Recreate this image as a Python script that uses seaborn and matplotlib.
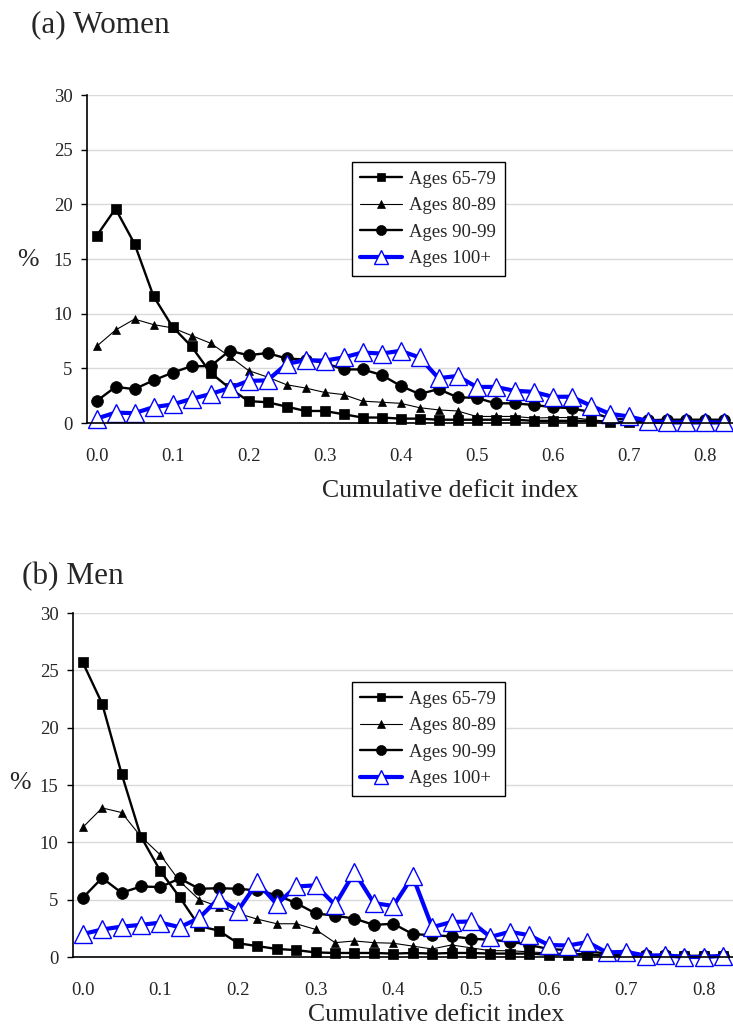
import numpy as np
import pandas as pd
import matplotlib
matplotlib.use("Agg")
import matplotlib.pyplot as plt
import seaborn as sns

# ---------------- data ----------------
category_pos = list(range(34))              # category slots along the deficit index axis
x_tick_pos = [0, 4, 8, 12, 16, 20, 24, 28, 32]
x_tick_labels = ["0.0", "0.1", "0.2", "0.3", "0.4", "0.5", "0.6", "0.7", "0.8"]
y_ticks = [0, 5, 10, 15, 20, 25, 30]
series_names = ["Ages 65-79", "Ages 80-89", "Ages 90-99", "Ages 100+"]

women_65_79 = [17.1, 19.6, 16.4, 11.6, 8.8, 7.0, 4.6, 3.2, 2.0, 1.9, 1.5, 1.1, 1.1, 0.8, 0.5, 0.5, 0.4,
               0.4, 0.3, 0.3, 0.3, 0.3, 0.3, 0.2, 0.2, 0.2, 0.2, 0.1, 0.1, 0.1, 0.05, 0.05, 0.05, 0.05]
women_80_89 = [7.0, 8.5, 9.5, 9.0, 8.7, 8.0, 7.3, 6.1, 4.8, 4.2, 3.5, 3.2, 2.8, 2.6, 2.0, 1.9, 1.8,
               1.4, 1.2, 1.1, 0.6, 0.6, 0.6, 0.45, 0.5, 0.5, 0.3, 0.15, 0.1, 0.05, 0.05, 0.0, 0.0, 0.0]
women_90_99 = [2.0, 3.3, 3.1, 3.9, 4.6, 5.2, 5.2, 6.6, 6.2, 6.4, 5.9, 5.8, 5.5, 4.9, 4.9, 4.4, 3.4,
               2.65, 3.1, 2.35, 2.3, 1.8, 1.8, 1.65, 1.45, 1.35, 1.0, 0.45, 0.3, 0.25, 0.3, 0.3, 0.3, 0.3]
women_100 = [0.4, 0.95, 0.9, 1.45, 1.7, 2.2, 2.65, 3.2, 3.85, 3.9, 5.4, 5.75, 5.7, 6.0, 6.45, 6.35, 6.6,
             6.0, 4.1, 4.3, 3.3, 3.3, 2.95, 2.85, 2.4, 2.4, 1.6, 0.85, 0.6, 0.2, 0.05, 0.05, 0.05, 0.05]

men_65_79 = [25.7, 22.1, 16.0, 10.5, 7.5, 5.2, 2.7, 2.3, 1.2, 0.95, 0.7, 0.6, 0.4, 0.35, 0.35, 0.35, 0.3,
             0.35, 0.3, 0.35, 0.35, 0.3, 0.3, 0.3, 0.2, 0.2, 0.2, 0.1, 0.1, 0.05, 0.05, 0.05, 0.05, 0.05]
men_80_89 = [11.3, 13.0, 12.6, 10.5, 8.9, 6.6, 5.0, 4.4, 3.8, 3.3, 2.9, 2.9, 2.4, 1.25, 1.4, 1.25, 1.2,
             0.95, 0.7, 1.05, 0.8, 0.55, 0.55, 0.45, 0.35, 0.3, 0.3, 0.15, 0.1, 0.1, 0.05, 0.05, 0.05, 0.05]
men_90_99 = [5.15, 6.9, 5.6, 6.15, 6.1, 6.85, 5.95, 6.0, 5.95, 5.8, 5.4, 4.7, 3.8, 3.6, 3.35, 2.8, 2.9,
             2.0, 1.9, 1.8, 1.6, 1.5, 1.35, 1.05, 0.7, 0.6, 0.5, 0.3, 0.25, 0.15, 0.15, 0.1, 0.1, 0.1]
men_100 = [2.0, 2.4, 2.65, 2.8, 3.0, 2.6, 3.4, 5.1, 4.05, 6.5, 4.6, 6.15, 6.25, 4.55, 7.4, 4.7, 4.45,
           7.05, 2.6, 3.05, 3.1, 1.75, 2.2, 1.9, 1.05, 1.0, 1.3, 0.4, 0.45, 0.12, 0.15, 0.0, 0.0, 0.1]

# ---------------- style ----------------
sns.set_style("white")
plt.rcParams["font.family"] = ["Liberation Serif", "DejaVu Serif"]
plt.rcParams["axes.unicode_minus"] = False

styles = [
    dict(color="black", marker="s", markersize=7.2, linewidth=1.7, markerfacecolor="black",
         markeredgecolor="black", markeredgewidth=0.5),
    dict(color="black", marker="^", markersize=6.0, linewidth=0.8, markerfacecolor="black",
         markeredgecolor="black", markeredgewidth=0.5),
    dict(color="black", marker="o", markersize=8.5, linewidth=1.7, markerfacecolor="black",
         markeredgecolor="black", markeredgewidth=0.5),
    dict(color="#0000FF", marker="^", markersize=12.5, linewidth=3.0, markerfacecolor="white",
         markeredgecolor="#0000FF", markeredgewidth=1.0),
]

fig = plt.figure(figsize=(7.33, 10.30), dpi=100)
ax_top = fig.add_axes([87 / 733, 1 - 423 / 1030, 646 / 733, 328 / 1030])
ax_bot = fig.add_axes([73 / 733, 1 - 957 / 1030, 660 / 733, 344 / 1030])

panels = [
    (ax_top, [women_65_79, women_80_89, women_90_99, women_100], (265 / 646, (423 - 162) / 328)),
    (ax_bot, [men_65_79, men_80_89, men_90_99, men_100], (279 / 660, (957 - 682) / 344)),
]

for ax, series, leg_pos in panels:
    for name, vals, st in zip(series_names, series, styles):
        sns.lineplot(x=category_pos, y=vals, ax=ax, label=name, clip_on=False, **st)
    ax.set_xlim(-0.5, 33.5)
    ax.set_ylim(0, 30)
    ax.set_yticks(y_ticks)
    ax.set_yticklabels([str(v) for v in y_ticks], fontsize=13.5)
    ax.set_xticks(x_tick_pos)
    ax.set_xticklabels(x_tick_labels, fontsize=13.5)
    ax.set_xticks([p + 0.5 for p in category_pos[:-1]], minor=True)
    ax.tick_params(axis="x", which="major", length=0, pad=18)
    ax.tick_params(axis="x", which="minor", direction="in", length=4, width=1, color="black")
    ax.tick_params(axis="y", which="major", direction="out", length=4, width=1, color="black",
                   left=True, pad=6.5)
    ax.grid(axis="y", color="#d9d9d9", linewidth=1.0)
    ax.grid(axis="x", visible=False)
    ax.set_axisbelow(True)
    for s in ["top", "right"]:
        ax.spines[s].set_visible(False)
    for s in ["left", "bottom"]:
        ax.spines[s].set_color("black")
        ax.spines[s].set_linewidth(1.2)
    ax.set_xlabel("")
    ax.set_ylabel("")
    leg = ax.legend(loc="upper left", bbox_to_anchor=leg_pos, borderaxespad=0, fontsize=13.5,
                    frameon=True, fancybox=False, edgecolor="black", framealpha=1,
                    handlelength=2.2, handletextpad=0.4, labelspacing=0.5, borderpad=0.45,
                    numpoints=1, markerscale=0.85)
    leg.get_frame().set_linewidth(1.0)

# titles and axis labels
fig.text(31 / 733, 1 - 32 / 1030, "(a) Women", fontsize=22.5, ha="left", va="baseline")
fig.text(22 / 733, 1 - 584 / 1030, "(b) Men", fontsize=22.5, ha="left", va="baseline")
fig.text(28 / 733, 1 - 260 / 1030, "%", fontsize=18.5, ha="center", va="center")
fig.text(20 / 733, 1 - 783 / 1030, "%", fontsize=18.5, ha="center", va="center")
fig.text(450 / 733, 1 - 497 / 1030, "Cumulative deficit index", fontsize=18.5, ha="center", va="baseline")
fig.text(436 / 733, 1 - 1021 / 1030, "Cumulative deficit index", fontsize=18.5, ha="center", va="baseline")

fig.savefig("out.png", dpi=100)
